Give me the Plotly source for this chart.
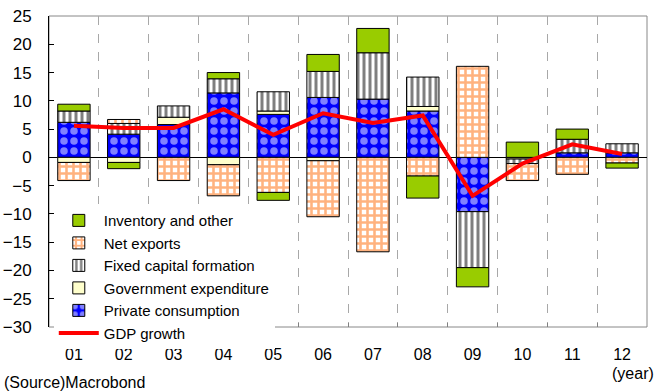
import plotly.graph_objects as go

years = ["01", "02", "03", "04", "05", "06", "07", "08", "09", "10", "11", "12"]
private_consumption = [6.2, 4.1, 5.8, 11.4, 7.6, 10.6, 10.3, 8.2, -9.6, None, 0.8, 0.8]
government_expenditure = [-0.9, -0.9, 1.3, -1.3, 0.6, -0.6, None, 0.8, None, -0.3, None, None]
fixed_capital = [2.0, 1.9, 2.0, 2.5, 3.4, 4.6, 8.2, 5.2, -9.9, -0.8, 2.4, 1.6]
net_exports = [-3.2, 0.7, -4.1, -5.5, -6.2, -9.9, -16.7, -3.3, 16.1, -3.0, -3.0, -1.0]
inventory_other = [1.2, -1.1, None, 1.1, -1.4, 3.0, 4.3, -3.9, -3.4, 2.7, 1.8, -0.9]
gdp_growth = [5.6, 5.2, 5.2, 8.5, 4.0, 7.8, 6.1, 7.4, -6.8, -1.1, 2.3, 0.6]

FONT = "Liberation Sans, Arial, sans-serif"
outline = dict(color="black", width=1)
bw = 0.65

fig = go.Figure()
fig.add_trace(go.Bar(
    x=years, y=private_consumption, name="Private consumption", width=bw, legendrank=5,
    marker=dict(color="#0000FF", line=outline,
                pattern=dict(shape=".", fgcolor="white", bgcolor="#0000FF", size=10, solidity=0.45))))
fig.add_trace(go.Bar(
    x=years, y=government_expenditure, name="Government expenditure", width=bw, legendrank=4,
    marker=dict(color="#FFFFCC", line=outline)))
fig.add_trace(go.Bar(
    x=years, y=fixed_capital, name="Fixed capital formation", width=bw, legendrank=3,
    marker=dict(color="black", line=outline,
                pattern=dict(shape="|", fgcolor="black", bgcolor="white", size=6, solidity=0.5))))
fig.add_trace(go.Bar(
    x=years, y=net_exports, name="Net exports", width=bw, legendrank=2,
    marker=dict(color="#FF6600", line=outline,
                pattern=dict(shape="+", fgcolor="#FF6600", bgcolor="white", size=7, solidity=0.6))))
fig.add_trace(go.Bar(
    x=years, y=inventory_other, name="Inventory and other", width=bw, legendrank=1,
    marker=dict(color="#99CC00", line=outline)))
fig.add_trace(go.Scatter(
    x=years, y=gdp_growth, name="GDP growth", mode="lines", legendrank=6,
    line=dict(color="#FF0000", width=4)))

fig.update_layout(
    width=658, height=391,
    margin=dict(l=49, r=11, t=16, b=64, autoexpand=False),
    barmode="relative",
    paper_bgcolor="white", plot_bgcolor="white",
    font=dict(family=FONT, size=16, color="black"),
    showlegend=True,
    legend=dict(x=0.008, y=0.395, xanchor="left", yanchor="top",
                bgcolor="white", traceorder="normal",
                font=dict(family=FONT, size=15, color="black"),
                itemwidth=40, tracegroupgap=0),
    xaxis=dict(type="category", tickson="boundaries", showgrid=True,
               gridcolor="#A8A8A8", griddash="dash", gridwidth=1,
               ticks="inside", ticklen=4, tickcolor="#808080",
               showline=False, ticklabelstandoff=16, automargin=False,
               tickfont=dict(family=FONT, size=16, color="black")),
    yaxis=dict(range=[-30, 25], dtick=5, showgrid=False,
               zeroline=True, zerolinecolor="black", zerolinewidth=1,
               showline=True, linecolor="black", linewidth=1,
               ticks="inside", ticklen=5, tickcolor="black",
               ticklabelstandoff=13, automargin=False,
               tickfont=dict(family=FONT, size=17, color="black")),
    shapes=[dict(type="rect", xref="paper", yref="paper", x0=0, x1=1, y0=0, y1=1,
                 line=dict(color="#888888", width=1), layer="below")],
    annotations=[
        dict(text="(year)", xref="paper", yref="paper", x=1.015, y=-0.151,
             xanchor="right", yanchor="middle", showarrow=False,
             font=dict(family=FONT, size=16, color="black")),
        dict(text="(Source)Macrobond", xref="paper", yref="paper", x=-0.0786, y=-0.177,
             xanchor="left", yanchor="middle", showarrow=False,
             font=dict(family=FONT, size=16, color="black")),
    ],
)

fig.write_html("out.html", config={"displayModeBar": False},
               post_script="document.body.style.margin='0';")
